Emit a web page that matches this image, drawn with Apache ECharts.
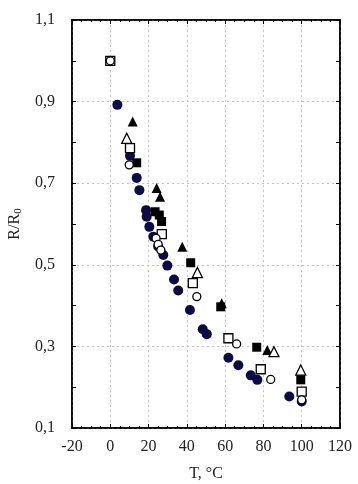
<!DOCTYPE html>
<html>
<head>
<meta charset="utf-8">
<script src="https://cdn.jsdelivr.net/npm/echarts@6/dist/echarts.min.js"></script>
<style>
  html, body { margin: 0; padding: 0; background: #fff; }
  #main { width: 358px; height: 484px; }
</style>
</head>
<body>
<div id="main"></div>
<script>
// данные: [T, R/R0]
var darkCircles = [[3.7, 0.892], [10.3, 0.767], [13.8, 0.713], [15.2, 0.683], [18.7, 0.634],
  [19.0, 0.618], [20.4, 0.593], [22.5, 0.569], [25.0, 0.545], [27.7, 0.524], [29.8, 0.498],
  [33.3, 0.464], [35.5, 0.437], [41.6, 0.389], [48.3, 0.342], [50.4, 0.330], [61.7, 0.272],
  [66.9, 0.254], [73.4, 0.229], [76.8, 0.218], [93.5, 0.177], [100, 0.165]];
var filledSquares = [[13.8, 0.750], [23.4, 0.630], [25.6, 0.622], [26.8, 0.606], [42.0, 0.505],
  [57.7, 0.397], [76.5, 0.298], [99.5, 0.218]];
var openSquares = [[0, 1.0], [10.3, 0.786], [26.9, 0.575], [43.1, 0.455], [61.7, 0.320],
  [78.6, 0.244], [100, 0.189]];
var filledTriangles = [[11.7, 0.851], [24.2, 0.688], [26.0, 0.667], [37.6, 0.544], [58.2, 0.406],
  [82.0, 0.291]];
var openTriangles = [[8.6, 0.810], [45.5, 0.481], [85.5, 0.287], [99.5, 0.242]];
var openCircles = [[0, 1.0], [9.9, 0.745], [23.9, 0.565], [25.0, 0.550], [26.4, 0.536],
  [45.2, 0.422], [66.0, 0.306], [83.8, 0.219], [100, 0.169]];

var xTicks = [-20, 0, 20, 40, 60, 80, 100, 120];

var myChart = echarts.init(document.getElementById('main'), null, { renderer: 'canvas' });

var fontFam = '"Liberation Serif", "DejaVu Serif", serif';
var gridLine = { show: true, lineStyle: { color: '#c4c4c4', type: [2, 3], width: 1 } };

function axisY(pos, withLabels) {
  return {
    type: 'value',
    position: pos,
    min: 0.1,
    max: 1.1,
    interval: 0.2,
    name: withLabels ? '{a|R/R}{b|0}' : '',
    nameLocation: 'middle',
    nameGap: 44,
    nameTextStyle: {
      rich: {
        a: { fontFamily: fontFam, fontSize: 16, color: '#222' },
        b: { fontFamily: fontFam, fontSize: 11, color: '#222', padding: [8, 0, 0, 0] }
      }
    },
    axisLine: { show: true, onZero: false, lineStyle: { color: '#000', width: 1.5 } },
    axisTick: { show: true, inside: true, length: 4, lineStyle: { color: '#000' } },
    minorTick: { show: true, splitNumber: 2, length: 4, lineStyle: { color: '#000' } },
    splitLine: withLabels ? gridLine : { show: false },
    axisLabel: {
      show: withLabels,
      margin: 17,
      fontFamily: fontFam,
      fontSize: 16,
      color: '#222',
      formatter: function (v) { return v.toFixed(1).replace('.', ','); }
    }
  };
}

function axisX(pos, withLabels) {
  return {
    type: 'value',
    position: pos,
    min: xTicks[0],
    max: xTicks[xTicks.length - 1],
    interval: 20,
    name: withLabels ? 'T, °C' : '',
    nameLocation: 'middle',
    nameGap: 38,
    nameTextStyle: { fontFamily: fontFam, fontSize: 16, color: '#222' },
    axisLine: { show: true, onZero: false, lineStyle: { color: '#000', width: 1.5 } },
    axisTick: { show: true, inside: true, length: 4, lineStyle: { color: '#000' } },
    minorTick: { show: true, splitNumber: 4, length: 2, lineStyle: { color: '#000' } },
    splitLine: withLabels ? gridLine : { show: false },
    axisLabel: {
      show: withLabels,
      margin: 11,
      fontFamily: fontFam,
      fontSize: 16,
      color: '#222'
    }
  };
}

function pts(data, symbol, size, filled, color) {
  return {
    type: 'scatter',
    data: data,
    symbol: symbol,
    symbolSize: size,
    itemStyle: filled
      ? { color: color, borderColor: color, borderWidth: 0, opacity: 1 }
      : { color: '#fff', borderColor: '#000', borderWidth: 1.3, opacity: 1 },
    emphasis: { disabled: true }
  };
}

var option = {
  backgroundColor: '#fff',
  animation: false,
  grid: {
    left: 72, right: 18, top: 20, bottom: 56,
    containLabel: false, outerBoundsMode: 'none',
    show: true, borderColor: '#000', borderWidth: 1.5
  },
  xAxis: [axisX('bottom', true), axisX('top', false)],
  yAxis: [axisY('left', true), axisY('right', false)],
  series: [
    pts(darkCircles, 'circle', 10, true, '#0b0b45'),
    pts(filledTriangles, 'triangle', 10, true, '#000'),
    pts(openTriangles, 'triangle', 10, false),
    pts(filledSquares, 'rect', 9, true, '#000'),
    pts(openSquares, 'rect', 9, false),
    pts(openCircles, 'circle', 8, false)
  ]
};

myChart.setOption(option);
</script>
</body>
</html>
